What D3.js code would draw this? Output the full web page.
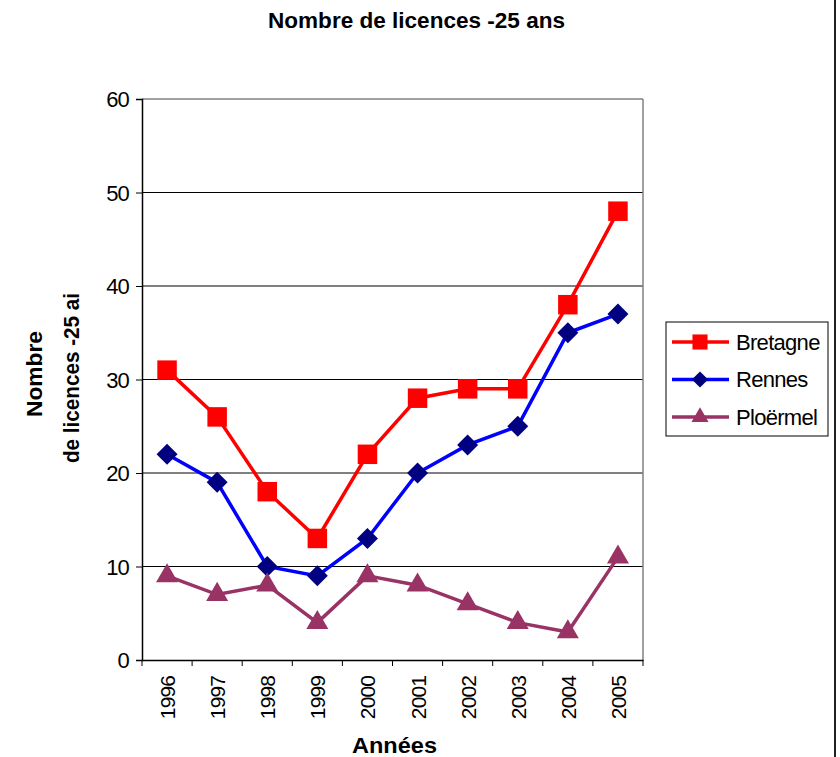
<!DOCTYPE html>
<html><head><meta charset="utf-8">
<script src="https://cdn.jsdelivr.net/npm/d3@7"></script>
<style>body{margin:0;background:#fff}svg{display:block}</style>
</head><body><svg id="c" width="840" height="757"></svg>
<script>
const years = ["1996","1997","1998","1999","2000","2001","2002","2003","2004","2005"];
const bretagne = [31,26,18,13,22,28,29,29,38,48];
const rennes = [22,19,10,9,13,20,23,25,35,37];
const ploermel = [9,7,8,4,9,8,6,4,3,11];
const yTicks = [0,10,20,30,40,50,60];
const seriesNames = ["Bretagne","Rennes","Ploërmel"];

const diamond = {draw(ctx,size){const r=Math.sqrt(size/2);ctx.moveTo(0,-r);ctx.lineTo(r,0);ctx.lineTo(0,r);ctx.lineTo(-r,0);ctx.closePath();}};

const series = [
  {name:seriesNames[0], values:bretagne, line:"#FF0000", fill:"#FF0000", sym:d3.symbolSquare, size:380},
  {name:seriesNames[1], values:rennes, line:"#0000FF", fill:"#000080", sym:diamond, size:220},
  {name:seriesNames[2], values:ploermel, line:"#993366", fill:"#993366", sym:d3.symbolTriangle, size:210}
];

const svg = d3.select("#c");
const font = "'Liberation Sans', Arial, sans-serif";
const L=142, R=643, T=99, B=660;
const x = d3.scaleBand().domain(years).range([L,R]);
const y = d3.scaleLinear().domain([0,60]).range([B,T]);

// gridlines
svg.append("g").selectAll("line").data(yTicks.filter(d=>d>0)).join("line")
  .attr("x1",L).attr("x2",R).attr("y1",d=>y(d)).attr("y2",d=>y(d))
  .attr("stroke",d=>d===60?"#808080":"#000").attr("stroke-width",d=>d===60?1.5:1);
// right border
svg.append("line").attr("x1",R).attr("x2",R).attr("y1",T).attr("y2",B).attr("stroke","#808080").attr("stroke-width",1.5);

// y axis
const ya = svg.append("g").attr("transform",`translate(${L},0)`)
  .call(d3.axisLeft(y).tickValues(yTicks).tickSize(6).tickPadding(7));
ya.select(".domain").attr("stroke","#000").attr("stroke-width",1.5);
ya.selectAll(".tick line").attr("stroke","#000");
ya.selectAll(".tick text").attr("font-family",font).attr("font-size",22).attr("letter-spacing",-0.8).attr("fill","#000").attr("dy","0.36em");

// x axis
const xa = svg.append("g").attr("transform",`translate(0,${B})`)
  .call(d3.axisBottom(x).tickSize(0).tickFormat(""));
xa.select(".domain").attr("stroke","#000").attr("stroke-width",1.5);
const bounds = years.map(d=>x(d)).concat([R]);
xa.selectAll(".bt").data(bounds).join("line").attr("class","bt")
  .attr("x1",d=>d).attr("x2",d=>d).attr("y1",0).attr("y2",6).attr("stroke","#000");
xa.selectAll(".yl").data(years).join("text").attr("class","yl")
  .attr("transform",d=>`translate(${x(d)+x.bandwidth()/2+8},16) rotate(-90)`)
  .attr("text-anchor","end").attr("font-family",font).attr("font-size",21).attr("letter-spacing",-0.9).attr("fill","#000")
  .text(d=>d);

// lines and markers
const line = d3.line().x((d,i)=>x(years[i])+x.bandwidth()/2).y(d=>y(d));
series.forEach(s=>{
  svg.append("path").attr("d",line(s.values)).attr("fill","none").attr("stroke",s.line).attr("stroke-width",3.5);
  svg.append("g").selectAll("path").data(s.values).join("path")
    .attr("transform",(d,i)=>`translate(${x(years[i])+x.bandwidth()/2},${y(d)})`)
    .attr("d",d3.symbol().type(s.sym).size(s.size)).attr("fill",s.fill);
});

// title
svg.append("text").attr("x",268).attr("y",28)
  .attr("font-family",font).attr("font-weight","bold").attr("font-size",22)
  .attr("textLength",297).attr("lengthAdjust","spacingAndGlyphs")
  .text("Nombre de licences -25 ans");
// x title
svg.append("text").attr("x",352).attr("y",753)
  .attr("font-family",font).attr("font-weight","bold").attr("font-size",22)
  .attr("textLength",85).attr("lengthAdjust","spacingAndGlyphs")
  .text("Années");
// y title
const yt = svg.append("g").attr("font-family",font).attr("font-weight","bold").attr("font-size",22);
yt.append("text").attr("transform","translate(42,417) rotate(-90)")
  .attr("textLength",86).attr("lengthAdjust","spacingAndGlyphs").text("Nombre");
yt.append("text").attr("transform","translate(79,463) rotate(-90)")
  .attr("textLength",170).attr("lengthAdjust","spacingAndGlyphs").text("de licences -25 ai");

// legend
const lg = svg.append("g");
lg.append("rect").attr("x",666).attr("y",322).attr("width",162).attr("height",114)
  .attr("fill","#fff").attr("stroke","#000").attr("stroke-width",1);
series.forEach((s,i)=>{
  const cy = 342 + i*37.5;
  lg.append("line").attr("x1",672).attr("x2",729).attr("y1",cy).attr("y2",cy).attr("stroke",s.line).attr("stroke-width",3.5);
  lg.append("path").attr("transform",`translate(700,${cy})`).attr("d",d3.symbol().type(s.sym).size(s.size*0.6)).attr("fill",s.fill);
  lg.append("text").attr("x",736).attr("y",cy).attr("dy","0.36em").attr("font-family",font).attr("font-size",22).attr("letter-spacing",-0.7)
    .text(s.name);
});

// right frame line
svg.append("line").attr("x1",835).attr("x2",835).attr("y1",0).attr("y2",757).attr("stroke","#222").attr("stroke-width",2);
</script></body></html>
